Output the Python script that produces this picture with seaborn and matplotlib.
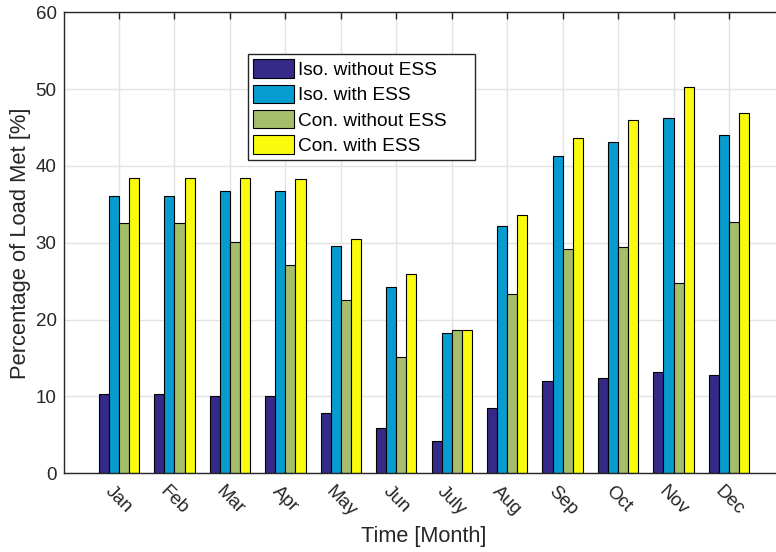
import matplotlib
matplotlib.use("Agg")
import matplotlib.pyplot as plt
from matplotlib.patches import Patch
import numpy as np
import pandas as pd
import seaborn as sns

months = ["Jan", "Feb", "Mar", "Apr", "May", "Jun",
          "July", "Aug", "Sep", "Oct", "Nov", "Dec"]
series_names = ["Iso. without ESS", "Iso. with ESS",
                "Con. without ESS", "Con. with ESS"]

iso_without_ess = [10.3, 10.3, 10.1, 10.1, 7.9, 5.85, 4.25, 8.5, 12.05, 12.4, 13.2, 12.85]
iso_with_ess = [36.15, 36.15, 36.8, 36.8, 29.6, 24.2, 18.3, 32.2, 41.35, 43.1, 46.25, 44.0]
con_without_ess = [32.6, 32.6, 30.1, 27.1, 22.5, 15.1, 18.6, 23.4, 29.2, 29.5, 24.8, 32.7]
con_with_ess = [38.4, 38.4, 38.4, 38.3, 30.5, 25.9, 18.6, 33.6, 43.6, 45.95, 50.3, 46.9]

colors = ["#352A87", "#079CCF", "#A5BE6A", "#F9FB0E"]
ink = "#262626"

frames = []
for name, vals in zip(series_names,
                      [iso_without_ess, iso_with_ess, con_without_ess, con_with_ess]):
    frames.append(pd.DataFrame({"Month": months, "Series": name, "Value": vals}))
df = pd.concat(frames, ignore_index=True)

sns.set_theme(style="white")
plt.rcParams["font.family"] = ["Liberation Sans", "DejaVu Sans"]

fig = plt.figure(figsize=(7.76, 5.52), dpi=100)
# the axes runs a little past the right edge of the canvas
ax = fig.add_axes([63.5 / 776, 1 - 473.3 / 552, 721 / 776, 461 / 552])

sns.barplot(data=df, x="Month", y="Value", hue="Series", order=months,
            hue_order=series_names, palette=colors, saturation=1,
            width=0.727, gap=0, edgecolor="black", linewidth=0.8,
            errorbar=None, legend=False, ax=ax)

ax.set_xlim(-1, 12)
ax.set_ylim(0, 60)
ax.set_yticks(np.arange(0, 61, 10))
ax.set_xticks(range(len(months)))
ax.set_xticklabels(months, rotation=-45, ha="center", va="top")

ax.set_axisbelow(True)
ax.grid(True, color="#E3E3E3", linewidth=1.0)

for side, sp in ax.spines.items():
    sp.set_color(ink)
    sp.set_linewidth(1.0)
    sp.set_visible(True)

ax.tick_params(axis="both", direction="in", length=5, width=1.0, color=ink,
               labelcolor=ink, labelsize=13.5, top=True, right=True)
ax.tick_params(axis="y", pad=5)
ax.tick_params(axis="x", pad=7)

ax.set_xlabel("Time [Month]", fontsize=15.6, color=ink, labelpad=4)
ax.set_ylabel("Percentage of Load Met [%]", fontsize=15.8, color=ink, labelpad=3)

handles = [Patch(facecolor=c, edgecolor="black", linewidth=0.8) for c in colors]
leg = ax.legend(handles, series_names, loc="upper left", mode="expand",
                bbox_to_anchor=(248 / 776, 1 - 54 / 552, 227 / 776, 0),
                bbox_transform=fig.transFigure, fontsize=13.7,
                frameon=True, fancybox=False, shadow=False, framealpha=1,
                handlelength=2.15, handleheight=1.1, handletextpad=0.2,
                labelspacing=0.3, borderpad=0.28, borderaxespad=0)
leg.get_frame().set_edgecolor(ink)
leg.get_frame().set_linewidth(1.0)
for t in leg.get_texts():
    t.set_color("black")

fig.savefig("out.png", dpi=100)
